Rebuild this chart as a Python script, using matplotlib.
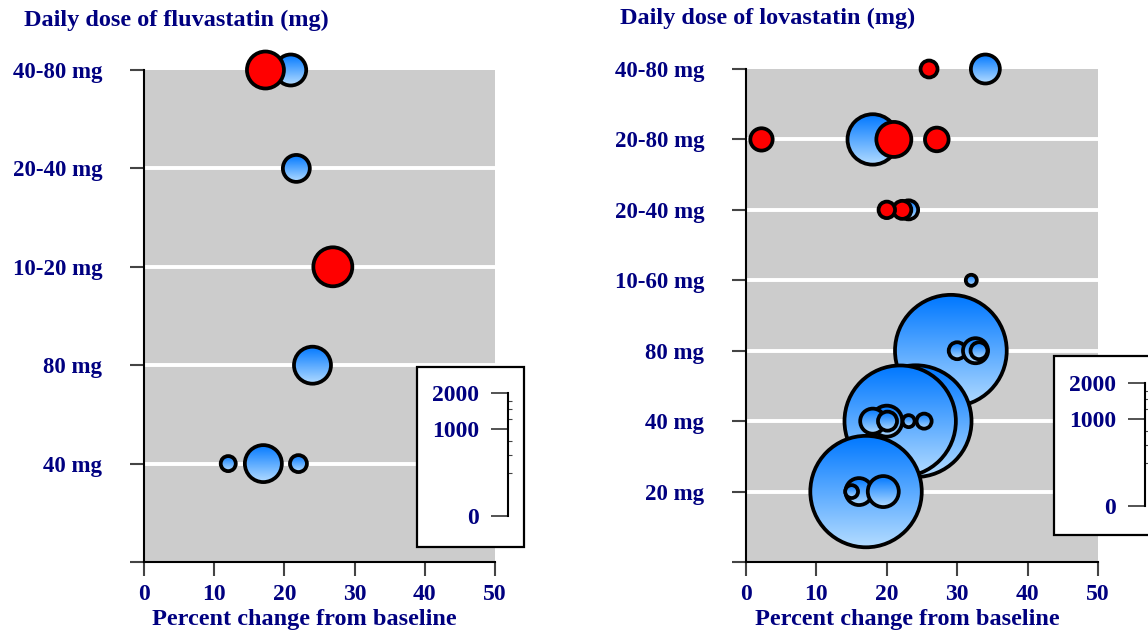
import numpy as np
import matplotlib
matplotlib.use("Agg")
import matplotlib.pyplot as plt
from matplotlib.patches import Ellipse, Rectangle

# ---------- DATA ----------
flu_levels = ["40 mg", "80 mg", "10-20 mg", "20-40 mg", "40-80 mg"]
flu_dose = ["40-80 mg", "40-80 mg", "20-40 mg", "10-20 mg", "80 mg", "40 mg", "40 mg", "40 mg"]
flu_change = [20.9, 17.3, 21.7, 26.9, 24.0, 12.0, 17.0, 22.0]
flu_n = [127, 181, 96, 201, 181, 30, 181, 38]
flu_kind = ["blue", "red", "blue", "red", "blue", "blue", "blue", "blue"]

lov_levels = ["20 mg", "40 mg", "80 mg", "10-60 mg", "20-40 mg", "20-80 mg", "40-80 mg"]
lov_dose = ["40-80 mg", "40-80 mg",
            "20-80 mg", "20-80 mg", "20-80 mg", "20-80 mg",
            "20-40 mg", "20-40 mg", "20-40 mg",
            "10-60 mg",
            "80 mg", "80 mg", "80 mg", "80 mg",
            "40 mg", "40 mg", "40 mg", "40 mg", "40 mg", "40 mg", "40 mg",
            "20 mg", "20 mg", "20 mg", "20 mg"]
lov_change = [34.0, 26.0,
              18.0, 21.0, 2.2, 27.1,
              23.1, 22.2, 20.0,
              32.0,
              29.1, 30.0, 32.6, 33.1,
              24.1, 21.9, 20.0, 18.0, 20.1, 23.1, 25.3,
              17.05, 16.05, 15.0, 19.5]
lov_n = [111, 38,
         336, 162, 66, 74,
         48, 43, 36,
         16,
         1650, 38, 83, 38,
         1650, 1640, 127, 83, 48, 19, 30,
         1642, 96, 22, 127]
lov_kind = ["blue", "red",
            "blue", "red", "red", "red",
            "blue", "red", "red",
            "blue",
            "blue", "blue", "blue", "blue",
            "blue", "blue", "blue", "blue", "blue", "blue", "blue",
            "blue", "blue", "blue", "blue"]

x_ticks = [0, 10, 20, 30, 40, 50]
size_ticks = [0, 1000, 2000]
size_max = 2000
# ---------------------------

W, H = 1148, 630
navy = "#000080"
font = "Liberation Serif"
scale_len = 123  # px length of the size key from 0 to 2000
top_col = np.array([0.0, 0.47, 1.0])
bot_col = np.array([0.70, 0.86, 1.0])
grad = np.linspace(0, 1, 64)[:, None, None] * (bot_col - top_col) + top_col

fig = plt.figure(figsize=(W / 100, H / 100), dpi=100)


def px_axes(x0, x1, y_top, y_bot):
    return fig.add_axes([x0 / W, (H - y_bot) / H, (x1 - x0) / W, (y_bot - y_top) / H])


def setup(ax, levels):
    n = len(levels)
    ax.set_xlim(0, 50)
    ax.set_ylim(0, n)
    ax.set_facecolor("#cccccc")
    for s in ["top", "right"]:
        ax.spines[s].set_visible(False)
    for s in ["left", "bottom"]:
        ax.spines[s].set_linewidth(1.5)
    for lv in range(1, n):
        ax.axhline(lv, color="white", lw=2.8, zorder=1)
    ax.set_yticks(range(0, n + 1))
    ax.set_yticklabels([""] + levels)
    ax.set_xticks(x_ticks)
    ax.tick_params(axis="y", direction="out", length=10, width=1.5, color="#444444",
                   pad=20, labelsize=16.5, labelcolor=navy)
    ax.tick_params(axis="x", direction="out", length=10, width=1.5, color="#444444",
                   pad=6, labelsize=17, labelcolor=navy)
    for lab in ax.get_xticklabels() + ax.get_yticklabels():
        lab.set_fontfamily(font)
        lab.set_fontweight("bold")
    ax.set_xlabel("Percent change from baseline", fontsize=17.5, color=navy,
                  family=font, weight="bold", labelpad=1)
    ax.xaxis.set_label_coords(0.457, -0.095)


def bubbles(ax, levels, dose, change, n, kind):
    bb = ax.get_position()
    ppx = bb.width * W / 50
    ppy = bb.height * H / len(levels)
    for d, x, v, k in zip(dose, change, n, kind):
        y = levels.index(d) + 1
        dpx = scale_len * np.sqrt(v / size_max)
        w, h = dpx / ppx, dpx / ppy
        if k == "blue":
            clip = Ellipse((x, y), w, h, transform=ax.transData)
            im = ax.imshow(grad, extent=[x - w / 2, x + w / 2, y - h / 2, y + h / 2],
                           aspect="auto", zorder=3, interpolation="bilinear")
            im.set_clip_path(clip)
            im.set_clip_box(fig.bbox)
            ax.add_patch(Ellipse((x, y), w, h, facecolor="none", edgecolor="black",
                                 lw=2.7, zorder=3, clip_on=False))
        else:
            ax.add_patch(Ellipse((x, y), w, h, facecolor="red", edgecolor="black",
                                 lw=2.7, zorder=3, clip_on=False))
    ax.set_xlim(0, 50)
    ax.set_ylim(0, len(levels))


def size_key(box, spine_x, y0):
    fig.add_artist(Rectangle((box[0] / W, (H - box[3]) / H), (box[1] - box[0]) / W,
                             (box[3] - box[2]) / H, transform=fig.transFigure,
                             facecolor="white", edgecolor="black", lw=1.6, zorder=5))
    k = px_axes(spine_x, spine_x + 5, y0 - scale_len, y0)
    k.set_zorder(6)
    k.patch.set_visible(False)
    k.set_ylim(0, np.sqrt(size_max))
    k.set_xticks([])
    for s in ["top", "right", "bottom"]:
        k.spines[s].set_visible(False)
    k.spines["left"].set_linewidth(1.5)
    k.set_yticks(np.sqrt(size_ticks))
    k.set_yticklabels([str(t) for t in size_ticks])
    k.set_yticks(np.sqrt([250, 500, 750, 1250, 1500, 1750]), minor=True)
    k.tick_params(axis="y", which="major", direction="out", length=12, width=1.3,
                  color="#444444", pad=9, labelsize=17, labelcolor=navy)
    k.tick_params(axis="y", which="minor", direction="in", length=3, width=0.8, color="#444444")
    for lab in k.get_yticklabels():
        lab.set_fontfamily(font)
        lab.set_fontweight("bold")


ax1 = px_axes(144, 495, 70, 562)
setup(ax1, flu_levels)
bubbles(ax1, flu_levels, flu_dose, flu_change, flu_n, flu_kind)

ax2 = px_axes(746, 1098, 69, 562)
setup(ax2, lov_levels)
bubbles(ax2, lov_levels, lov_dose, lov_change, lov_n, lov_kind)

size_key((417, 524, 367, 547), 508, 516)
size_key((1054, 1160, 356, 535), 1145, 506)

fig.text(24 / W, 1 - 20 / H, "Daily dose of fluvastatin (mg)", fontsize=17.5, color=navy,
         family=font, weight="bold", va="center", ha="left")
fig.text(620 / W, 1 - 18 / H, "Daily dose of lovastatin (mg)", fontsize=17.5, color=navy,
         family=font, weight="bold", va="center", ha="left")

fig.savefig("out.png", dpi=100)
